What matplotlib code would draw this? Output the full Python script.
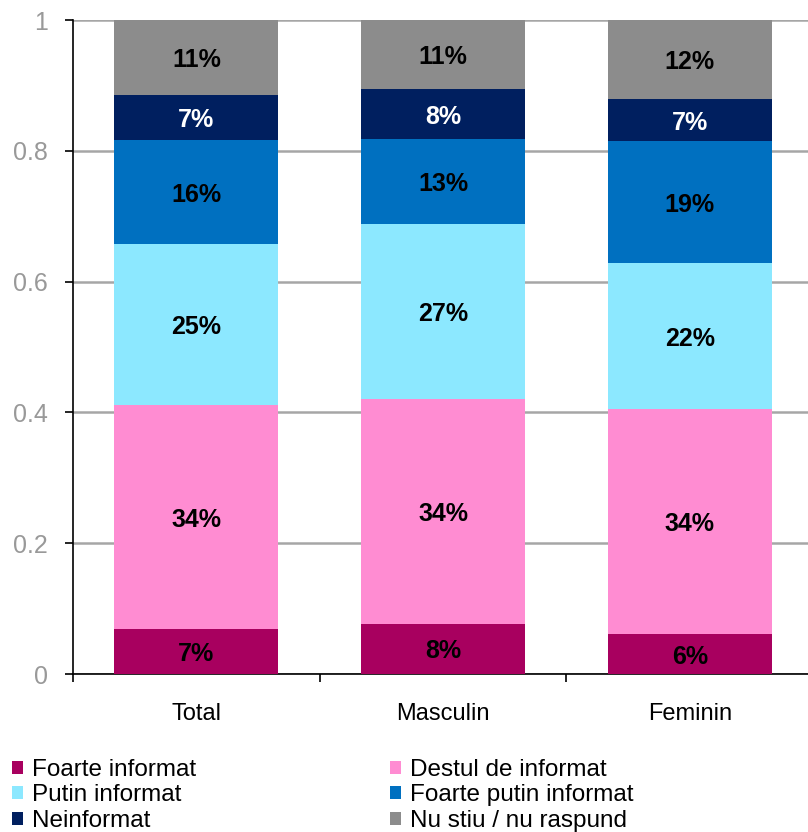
import numpy as np
import matplotlib.pyplot as plt
from matplotlib.patches import Patch

plt.rcParams['font.family'] = ['Liberation Sans', 'DejaVu Sans']

categories = ["Total", "Masculin", "Feminin"]
series = ["Foarte informat", "Destul de informat", "Putin informat",
          "Foarte putin informat", "Neinformat", "Nu stiu / nu raspund"]
colors = ["#A8005F", "#FF8CD2", "#8CE8FF", "#0070C0", "#001F5F", "#8C8C8C"]
text_colors = ["black", "black", "black", "black", "white", "black"]

# shares per series (Total, Masculin, Feminin)
foarte_informat = [0.069, 0.077, 0.061]
destul_informat = [0.342, 0.343, 0.344]
putin_informat = [0.246, 0.268, 0.223]
foarte_putin = [0.159, 0.130, 0.187]
neinformat = [0.070, 0.076, 0.064]
nu_stiu = [0.114, 0.106, 0.121]

labels_foarte_informat = ["7%", "8%", "6%"]
labels_destul = ["34%", "34%", "34%"]
labels_putin = ["25%", "27%", "22%"]
labels_foarte_putin = ["16%", "13%", "19%"]
labels_neinformat = ["7%", "8%", "7%"]
labels_nu_stiu = ["11%", "11%", "12%"]

values = [foarte_informat, destul_informat, putin_informat, foarte_putin, neinformat, nu_stiu]
labels = [labels_foarte_informat, labels_destul, labels_putin,
          labels_foarte_putin, labels_neinformat, labels_nu_stiu]

fig = plt.figure(figsize=(8.08, 8.32), dpi=100)
ax = fig.add_axes([0.0903, 0.1899, 0.916, 0.786])

x = np.arange(len(categories))
bottom = np.zeros(len(categories))
for vals, lab, col, tcol in zip(values, labels, colors, text_colors):
    ax.bar(x, vals, width=0.665, bottom=bottom, color=col, zorder=3)
    for xi, b, v, t in zip(x, bottom, vals, lab):
        ax.text(xi, b + v / 2, t, ha='center', va='center_baseline', color=tcol,
                fontsize=18, fontweight='bold', zorder=4)
    bottom += np.array(vals)

ax.set_xlim(-0.5, 2.5)
ax.set_ylim(0, 1)
ax.set_yticks([0, 0.2, 0.4, 0.6, 0.8, 1.0])
ax.set_yticklabels(["0", "0.2", "0.4", "0.6", "0.8", "1"], color="#999999", fontsize=18)
ax.yaxis.grid(True, color="#A6A6A6", linewidth=1.8, zorder=0)
ax.tick_params(axis='y', length=6, width=1.2, pad=12)

ax.set_xticks(x)
ax.set_xticklabels(categories, fontsize=17)
ax.set_xticks([-0.5, 0.5, 1.5, 2.5], minor=True)
ax.tick_params(axis='x', which='major', length=0, pad=21)
ax.tick_params(axis='x', which='minor', length=6, width=1.2)

for s in ['top', 'right']:
    ax.spines[s].set_visible(False)
ax.spines['left'].set_linewidth(1.2)
ax.spines['bottom'].set_linewidth(1.2)

# legend is filled row by row in the original, matplotlib fills columns
handles = [Patch(facecolor=c, label=s) for s, c in zip(series, colors)]
order = [0, 2, 4, 1, 3, 5]
fig.legend([handles[i] for i in order], [series[i] for i in order],
           loc='upper left', bbox_to_anchor=(0.015, 0.088), ncol=2, frameon=False,
           fontsize=17.5, handlelength=0.45, handleheight=0.45, handletextpad=0.35,
           labelspacing=0.15, columnspacing=8.0, borderaxespad=0, borderpad=0)

fig.savefig("out.png", dpi=100)
